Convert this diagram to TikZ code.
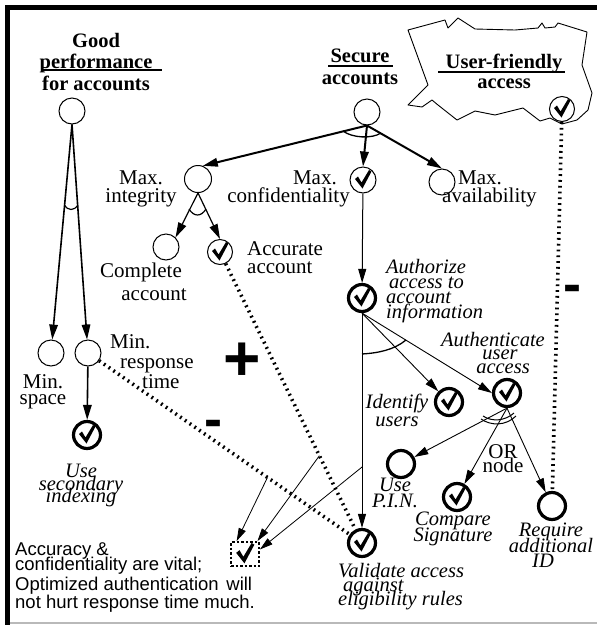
\documentclass[tikz,border=0pt]{standalone}
\usepackage{fontspec}
\setmainfont{Liberation Serif}
\setsansfont{Liberation Sans}
\usetikzlibrary{arrows.meta,calc}
\tikzset{
  chk/.pic={\fill (-8,-1) -- (-5,-3.5) -- (-1.5,2.5) -- (6,-10) -- (8.5,-8.5) -- (-0.5,8.5) -- cycle;},
}
\begin{document}
\lineskiplimit=-100pt
\begin{tikzpicture}[x=1pt,y=-1pt,
  sg/.style={circle,draw,inner sep=0pt,minimum size=26pt,line width=1pt},
  thk/.style={line width=3.2pt,minimum size=27pt},
  arr/.style={-{Triangle[length=15pt,width=8.5pt]},line width=1.6pt},
  tarr/.style={-{Triangle[length=14pt,width=8pt]},line width=0.9pt},
  carr/.style={-{Triangle[length=13pt,width=7.5pt]},line width=0.8pt},
  dotl/.style={line width=3.6pt,dash pattern=on 1.8pt off 4pt},
  lab/.style={inner sep=0pt,font=\fontsize{21}{18}\selectfont},
  blab/.style={inner sep=0pt,align=center,anchor=north},
  ilab/.style={inner sep=0pt},
  sign/.style={inner sep=0pt,anchor=base},
]
\useasboundingbox (0,0) rectangle (597,625);
% frame
\draw[line width=5pt] (7.5,625) -- (7.5,7.5) -- (597,7.5);
\draw[gray!55,line width=2pt] (10,622.5) -- (597,622.5);
% cloud
\draw[line width=0.9pt,line join=round] (408,30) -- (445,20) -- (448,28) -- (458,18) -- (475,29) -- (515,30) -- (538,28) -- (542,23) -- (545,28) -- (555,27) -- (558,23) -- (587,32) -- (582,65) -- (592,93) -- (588,110) -- (577,120) -- (562,124) -- (550,118) -- (540,121) -- (523,108) -- (495,115) -- (475,111) -- (457,120) -- (438,105) -- (432,100) -- (422,107) -- (408,105) -- (428,85) -- cycle;

% softgoal nodes
\node[sg] (gp) at (72,111) {};
\node[sg] (sa) at (367,112) {};
\node[sg,minimum size=25pt] (uf) at (562,109) {};
\node[sg,minimum size=27pt] (mi) at (198,179) {};
\node[sg] (mc) at (363,180) {};
\node[sg] (ma) at (442,182) {};
\node[sg] (ca) at (166,247) {};
\node[sg,minimum size=25pt] (aa) at (220,252) {};
\node[sg] (ms) at (51,353) {};
\node[sg] (mr) at (88,353) {};
\node[sg,thk] (usi) at (87,435) {};
\node[sg,thk] (auz) at (362,298) {};
\node[sg,thk] (idu) at (449,402) {};
\node[sg,thk] (aut) at (507,393) {};
\node[sg,thk] (pin) at (401,464) {};
\node[sg,thk] (cs) at (457,497) {};
\node[sg,thk] (req) at (552,506) {};
\node[sg,thk] (val) at (362,543) {};
\node[draw,line width=1.8pt,dash pattern=on 2.5pt off 2pt,minimum width=28pt,minimum height=24pt,inner sep=0pt] (cl) at (245,554) {};
\foreach \n in {uf,mc,aa,usi,auz,idu,aut,cs,val} {\pic at (\n.center) {chk};}
\pic[scale=1.1] at (cl.center) {chk};

% labels
\node[blab,font=\fontsize{20.5}{21.5}\selectfont\bfseries] (lgp) at (96,33) {Good\\performance\\for accounts};
\draw[line width=1.3pt] (43,70) -- (162,70);
\node[blab,font=\fontsize{20.5}{22}\selectfont\bfseries] (lsa) at (360,49) {Secure\\accounts};
\draw[line width=1.3pt] (328,66) -- (393,66);
\node[blab,font=\fontsize{20.5}{20}\selectfont\bfseries] (luf) at (504,54) {User-friendly\\access};
\draw[line width=1.3pt] (438,72) -- (565,72);
\node[lab,align=center,anchor=north] (lmi) at (141,171) {Max.\\integrity};
\node[lab,align=right,anchor=north east] (lmc) at (350,171) {Max.\hspace*{13pt}\\confidentiality};
\node[lab,align=left,anchor=north west] (lma) at (442,171) {\hspace*{16pt}Max.\\availability};
\node[lab,font=\fontsize{21}{23}\selectfont,align=center,anchor=north] (lca) at (141,263) {Complete\\\hspace*{26pt}account};
\node[lab,align=left,anchor=north west] (laa) at (247,241) {Accurate\\account};
\node[lab,font=\fontsize{21}{16}\selectfont,align=center,anchor=north] (lms) at (43,374) {Min.\\space};
\node[lab,font=\fontsize{21}{20}\selectfont,align=left,anchor=north west] (lmr) at (110,334) {Min.\\\hspace*{10pt}response\\\hspace*{32pt}time};
\node[ilab,font=\fontsize{20.5}{12.5}\selectfont\itshape,align=center,anchor=north] (lusi) at (81,464) {Use\\secondary\\indexing};
\node[ilab,font=\fontsize{20.5}{15}\selectfont\itshape,align=left,anchor=north west] (lauz) at (386,259) {Authorize\\\hspace*{3pt}access to\\account\\information};
\node[ilab,font=\fontsize{20.5}{13.5}\selectfont\itshape,align=center,anchor=north] (laut) at (493,332) {Authenticate\\\hspace*{14pt}user\\\hspace*{20pt}access};
\node[ilab,font=\fontsize{20.5}{18}\selectfont\itshape,align=center,anchor=north] (lidu) at (397,394) {Identify\\users};
\node[ilab,font=\fontsize{20.5}{16}\selectfont\itshape,align=center,anchor=north] (lpin) at (395,478) {Use\\P.I.N.};
\node[ilab,font=\fontsize{20.5}{16}\selectfont\itshape,align=center,anchor=north] (lcs) at (453,512) {Compare\\Signature};
\node[ilab,font=\fontsize{20.5}{15.5}\selectfont\itshape,align=center,anchor=north] (lreq) at (551,523) {Require\\additional\\ID\hspace*{16pt}};
\node[ilab,font=\fontsize{20.5}{14}\selectfont\itshape,align=left,anchor=north west] (lval) at (338,563) {Validate access\\\hspace*{5pt}against\\eligibility rules};
\node[lab,font=\fontsize{21}{14}\selectfont,align=center,anchor=north] (lor) at (503,444) {OR\\node};
\node[inner sep=0pt,font=\fontsize{18.5}{18}\selectfont\sffamily,align=left,anchor=north west] (note) at (15,542) {Accuracy \&\\[-3pt]confidentiality are vital;\\[2pt]Optimized authentication\hspace{2.5pt} will\\not hurt response time much.};
\node[sign,font=\fontsize{64}{64}\selectfont\sffamily\bfseries] (plus) at (242,380) {+};
\node[sign,font=\fontsize{54}{54}\selectfont\sffamily\bfseries] (m1) at (213,437) {-};
\node[sign,font=\fontsize{54}{54}\selectfont\sffamily\bfseries] (m2) at (572,302) {-};

% decompositions
\draw[arr] (gp.south) -- (ms);
\draw[arr] (gp.south) -- (mr);
\draw[line width=1.2pt] (64.5,205) .. controls (68,211) and (74,211) .. (78,205);
\draw[arr,line width=2pt] (sa.south) -- (mi.70);
\draw[arr,line width=2pt] (sa.south) -- (mc.north);
\draw[arr,line width=2pt] (sa.south) -- (ma.north);
\draw[line width=1.3pt] (343,131) .. controls (352,138) and (372,139) .. (381,133);
\draw[arr,line width=1.2pt] (mi.south) -- (ca.north east);
\draw[arr,line width=1.2pt] (mi.south) -- (aa.north);
\draw[line width=1.2pt] (189,209) .. controls (194,217) and (201,217) .. (206,209);
\draw[arr] (mr) -- (usi);
\draw[tarr,line width=1pt] (mc) -- (auz);
\draw[tarr] (auz.south) -- (idu.135);
\draw[tarr] (auz.south) -- (aut.west);
\draw[tarr] (auz.south) -- (val.north);
\draw[line width=1.3pt] (362,354) .. controls (378,353) and (394,350) .. (406,340);
\draw[tarr] (aut.south) -- (pin);
\draw[tarr] (aut.south) -- (cs);
\draw[tarr] (aut.south) -- (req);
\draw[line width=1pt] (483,416) .. controls (492,422) and (505,421) .. (514,413);
\draw[line width=1pt] (481,419) .. controls (491,426) and (506,426) .. (516,416);
% contributions
\draw[dotl] (aa) -- (val);
\draw[dotl] (mr) -- (val);
\draw[dotl] (uf) -- (req);
% claim arrows
\coordinate (p1) at ($(mr)!0.655!(val)$);
\coordinate (p2) at ($(aa)!0.70!(val)$);
\coordinate (p3) at ($(auz)!0.69!(val)$);
\draw[carr] (p1) -- (cl.123);
\draw[carr] (p2) -- (cl.46);
\draw[carr] (p3) -- (cl.17);
\end{tikzpicture}
\end{document}
